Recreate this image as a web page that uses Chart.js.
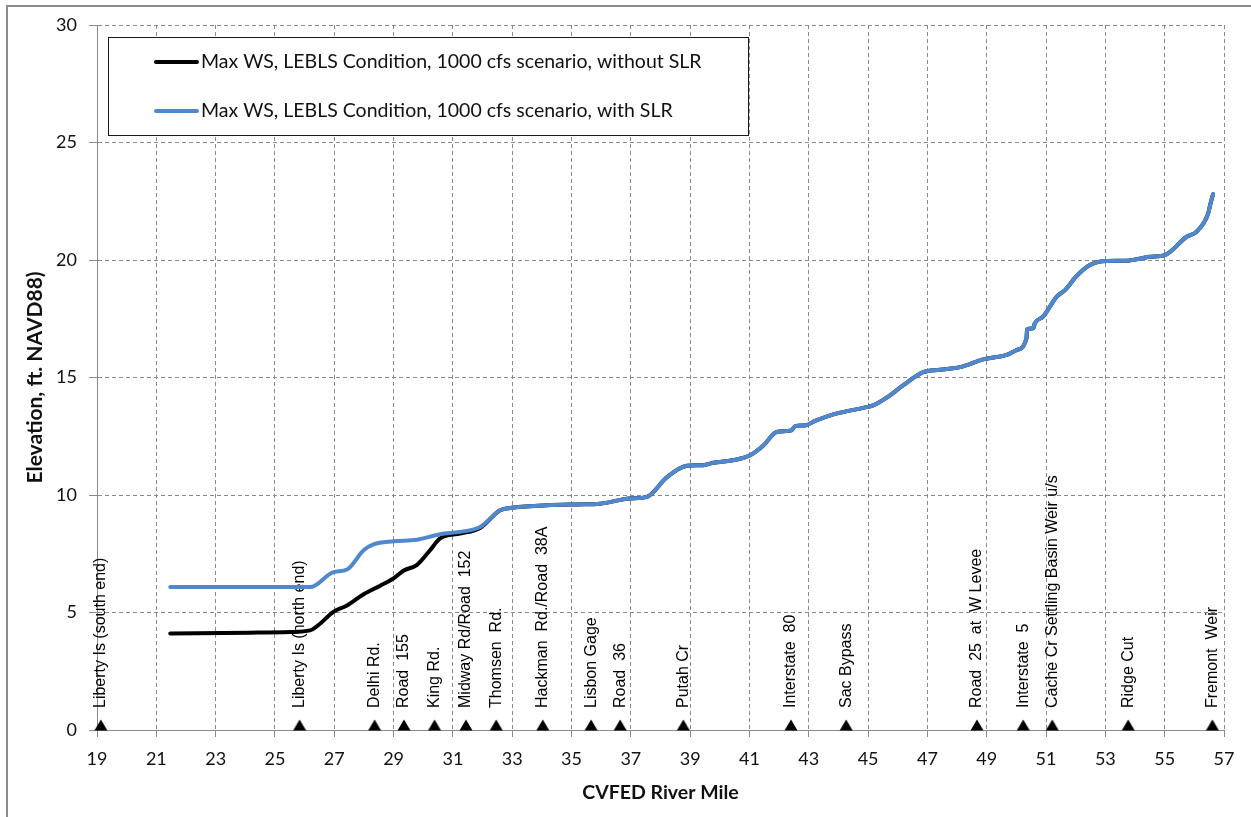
<!DOCTYPE html>
<html>
<head>
<meta charset="utf-8">
<script src="https://cdn.jsdelivr.net/npm/chart.js@4.4.1/dist/chart.umd.min.js"></script>
<style>
html,body{margin:0;padding:0;background:#fff;overflow:hidden;}
canvas{display:block;}
</style>
</head>
<body>
<canvas id="c" width="1251" height="817" style="width:1251px;height:817px"></canvas>
<script>
// ---------- data ----------
const xTicks = [19,21,23,25,27,29,31,33,35,37,39,41,43,45,47,49,51,53,55,57];

const seriesNames = [
  'Max WS, LEBLS Condition, 1000 cfs scenario, without SLR',
  'Max WS, LEBLS Condition, 1000 cfs scenario, with SLR'
];

// without SLR: only the reach where it differs from the with-SLR profile
const noSlrMiles = [21.47, 24.17, 25.51, 26.19, 26.53, 26.97, 27.43, 27.99, 28.55, 29.0, 29.33, 29.79, 30.23, 30.57, 31.24, 31.92];
const noSlrElev  = [4.11, 4.14, 4.17, 4.24, 4.53, 5.03, 5.30, 5.78, 6.14, 6.45, 6.78, 7.03, 7.65, 8.15, 8.36, 8.60];

// with SLR
const slrMiles = [21.47, 26.19, 26.97, 27.43, 27.99, 28.32, 29.0, 29.79, 30.57, 31.24, 31.92, 32.59, 32.93, 34.17, 35.2, 35.96, 36.97, 37.54, 38.21, 38.89, 39.44, 39.78, 40.57, 41.02, 41.47, 41.92, 42.42, 42.54, 42.87, 43.21, 43.83, 44.95, 45.17, 45.68, 46.13, 46.86, 47.42, 48.1, 48.88, 49.67, 50.01, 50.34, 50.36, 50.57, 50.62, 50.9, 51.36, 51.64, 52.03, 52.48, 53.04, 53.72, 54.5, 55.01, 55.74, 56.07, 56.47, 56.52, 56.63];
const slrElev  = [6.08, 6.08, 6.72, 6.83, 7.65, 7.90, 8.03, 8.10, 8.33, 8.43, 8.64, 9.35, 9.45, 9.56, 9.60, 9.63, 9.85, 9.92, 10.75, 11.24, 11.27, 11.37, 11.51, 11.69, 12.11, 12.68, 12.75, 12.93, 12.96, 13.15, 13.43, 13.74, 13.81, 14.19, 14.62, 15.23, 15.33, 15.44, 15.77, 15.96, 16.17, 16.67, 17.05, 17.09, 17.30, 17.59, 18.44, 18.72, 19.32, 19.79, 19.96, 19.97, 20.14, 20.21, 20.99, 21.20, 21.99, 22.27, 22.80];

// landmarks along the river
const landmarkMiles = [19.13, 25.83, 28.36, 29.35, 30.38, 31.44, 32.46, 34.03, 35.66, 36.64, 38.77, 42.4, 44.26, 48.67, 50.23, 51.21, 53.77, 56.61];
const landmarkNames = [
  'Liberty Is (south end)', 'Liberty Is (north end)', 'Delhi Rd.', 'Road  155', 'King Rd.',
  'Midway Rd/Road  152', 'Thomsen  Rd.', 'Hackman  Rd./Road  38A', 'Lisbon Gage', 'Road  36',
  'Putah Cr', 'Interstate  80', 'Sac Bypass', 'Road  25  at  W Levee', 'Interstate  5',
  'Cache Cr Settling Basin Weir u/s', 'Ridge Cut', 'Fremont  Weir'
];

// ---------- build ----------
const slrPts = slrMiles.map((m, i) => ({x: m, y: slrElev[i]}));
const noSlrPts = noSlrMiles.map((m, i) => ({x: m, y: noSlrElev[i]}))
  .concat(slrPts.filter(p => p.x > noSlrMiles[noSlrMiles.length - 1]));
const landmarkPts = landmarkMiles.map(m => ({x: m, y: 0}));

// triangle marker whose base sits on the point
const tri = document.createElement('canvas');
tri.width = 16; tri.height = 24;
(function(){
  const t = tri.getContext('2d');
  t.fillStyle = '#000';
  t.beginPath(); t.moveTo(8, 1.5); t.lineTo(14.5, 12.5); t.lineTo(1.5, 12.5); t.closePath(); t.fill();
})();

const GRID = '#8a8a8a';

const framePlugin = {
  id: 'frame',
  beforeDraw(chart) {
    const ctx = chart.ctx;
    ctx.save();
    ctx.fillStyle = '#fff';
    ctx.fillRect(0, 0, chart.width, chart.height);
    ctx.fillStyle = '#8c8c8c';
    ctx.fillRect(6, 5, 2, chart.height - 5);
    ctx.fillRect(6, 5, chart.width - 6, 2);
    ctx.restore();
  }
};

const landmarkPlugin = {
  id: 'landmarks',
  beforeDatasetsDraw(chart) {
    const ctx = chart.ctx, xs = chart.scales.x, ys = chart.scales.y;
    ctx.save();
    ctx.font = '16px "Liberation Sans", Arial, sans-serif';
    ctx.fillStyle = '#000';
    ctx.textAlign = 'left';
    ctx.textBaseline = 'middle';
    landmarkMiles.forEach((m, i) => {
      const px = xs.getPixelForValue(m);
      const py = ys.getPixelForValue(0) - 22;
      ctx.save();
      ctx.translate(px, py);
      ctx.rotate(-Math.PI / 2);
      ctx.fillText(landmarkNames[i], 0, 0);
      ctx.restore();
    });
    ctx.restore();
  }
};

const legendPlugin = {
  id: 'boxLegend',
  afterDatasetsDraw(chart) {
    const ctx = chart.ctx;
    const box = {l: 108, t: 37, r: 748, b: 135};
    ctx.save();
    ctx.fillStyle = '#fff';
    ctx.fillRect(box.l, box.t, box.r - box.l, box.b - box.t);
    ctx.strokeStyle = '#1a1a1a';
    ctx.lineWidth = 1;
    ctx.strokeRect(box.l + 0.5, box.t + 0.5, box.r - box.l, box.b - box.t);
    const rows = [62, 111];
    ctx.font = '19.5px Lato, "Open Sans", sans-serif';
    ctx.textBaseline = 'middle';
    ctx.textAlign = 'left';
    [0, 1].forEach((di, k) => {
      const ds = chart.data.datasets[di];
      ctx.strokeStyle = ds.borderColor;
      ctx.lineWidth = 4;
      ctx.lineCap = 'round';
      ctx.beginPath();
      ctx.moveTo(156, rows[k]);
      ctx.lineTo(197, rows[k]);
      ctx.stroke();
      ctx.fillStyle = '#111';
      ctx.fillText(ds.label, 201, rows[k]);
    });
    ctx.restore();
  }
};

new Chart(document.getElementById('c'), {
  type: 'line',
  data: {
    datasets: [
      {
        label: seriesNames[0],
        data: noSlrPts,
        borderColor: '#000000',
        backgroundColor: '#000000',
        borderWidth: 4,
        pointRadius: 0,
        cubicInterpolationMode: 'monotone',
        borderCapStyle: 'round',
        borderJoinStyle: 'round',
        fill: false,
        order: 1
      },
      {
        label: seriesNames[1],
        data: slrPts,
        borderColor: '#4F88CE',
        backgroundColor: '#4F88CE',
        borderWidth: 4,
        pointRadius: 0,
        cubicInterpolationMode: 'monotone',
        borderCapStyle: 'round',
        borderJoinStyle: 'round',
        fill: false,
        order: 0
      },
      {
        label: 'Landmarks',
        data: landmarkPts,
        showLine: false,
        pointStyle: tri,
        pointRadius: 8,
        clip: false,
        order: 2
      }
    ]
  },
  options: {
    responsive: false,
    animation: false,
    devicePixelRatio: 1,
    layout: {padding: {top: 25, right: 27, left: 0, bottom: 0}},
    plugins: {legend: {display: false}, tooltip: {enabled: false}},
    scales: {
      x: {
        type: 'linear',
        min: 19, max: 57,
        afterBuildTicks: s => { s.ticks = xTicks.map(v => ({value: v})); },
        afterFit: s => { s.height = 87; },
        grid: {color: GRID, lineWidth: 1, tickColor: GRID, tickLength: 7, drawTicks: true},
        border: {display: true, color: GRID, width: 1, dash: [4, 3]},
        ticks: {font: {family: 'Lato', size: 18}, color: '#111', padding: 11, maxRotation: 0, autoSkip: false},
        title: {display: true, text: 'CVFED River Mile', color: '#111',
                font: {family: 'Lato', size: 19.5, weight: 'bold'}, padding: {top: 0, bottom: 13}}
      },
      y: {
        type: 'linear',
        min: 0, max: 30,
        ticks: {stepSize: 5, font: {family: 'Lato', size: 18}, color: '#111', padding: 12},
        afterFit: s => { s.width = 97; },
        grid: {color: GRID, lineWidth: 1, tickColor: GRID, tickLength: 8, drawTicks: true},
        border: {display: true, color: GRID, width: 1, dash: [4, 3]},
        title: {display: true, text: 'Elevation, ft. NAVD88)', color: '#111',
                font: {family: 'Lato', size: 21, weight: 'bold'}, padding: {top: 23, bottom: 0}}
      }
    }
  },
  plugins: [framePlugin, landmarkPlugin, legendPlugin]
});
</script>
</body>
</html>
